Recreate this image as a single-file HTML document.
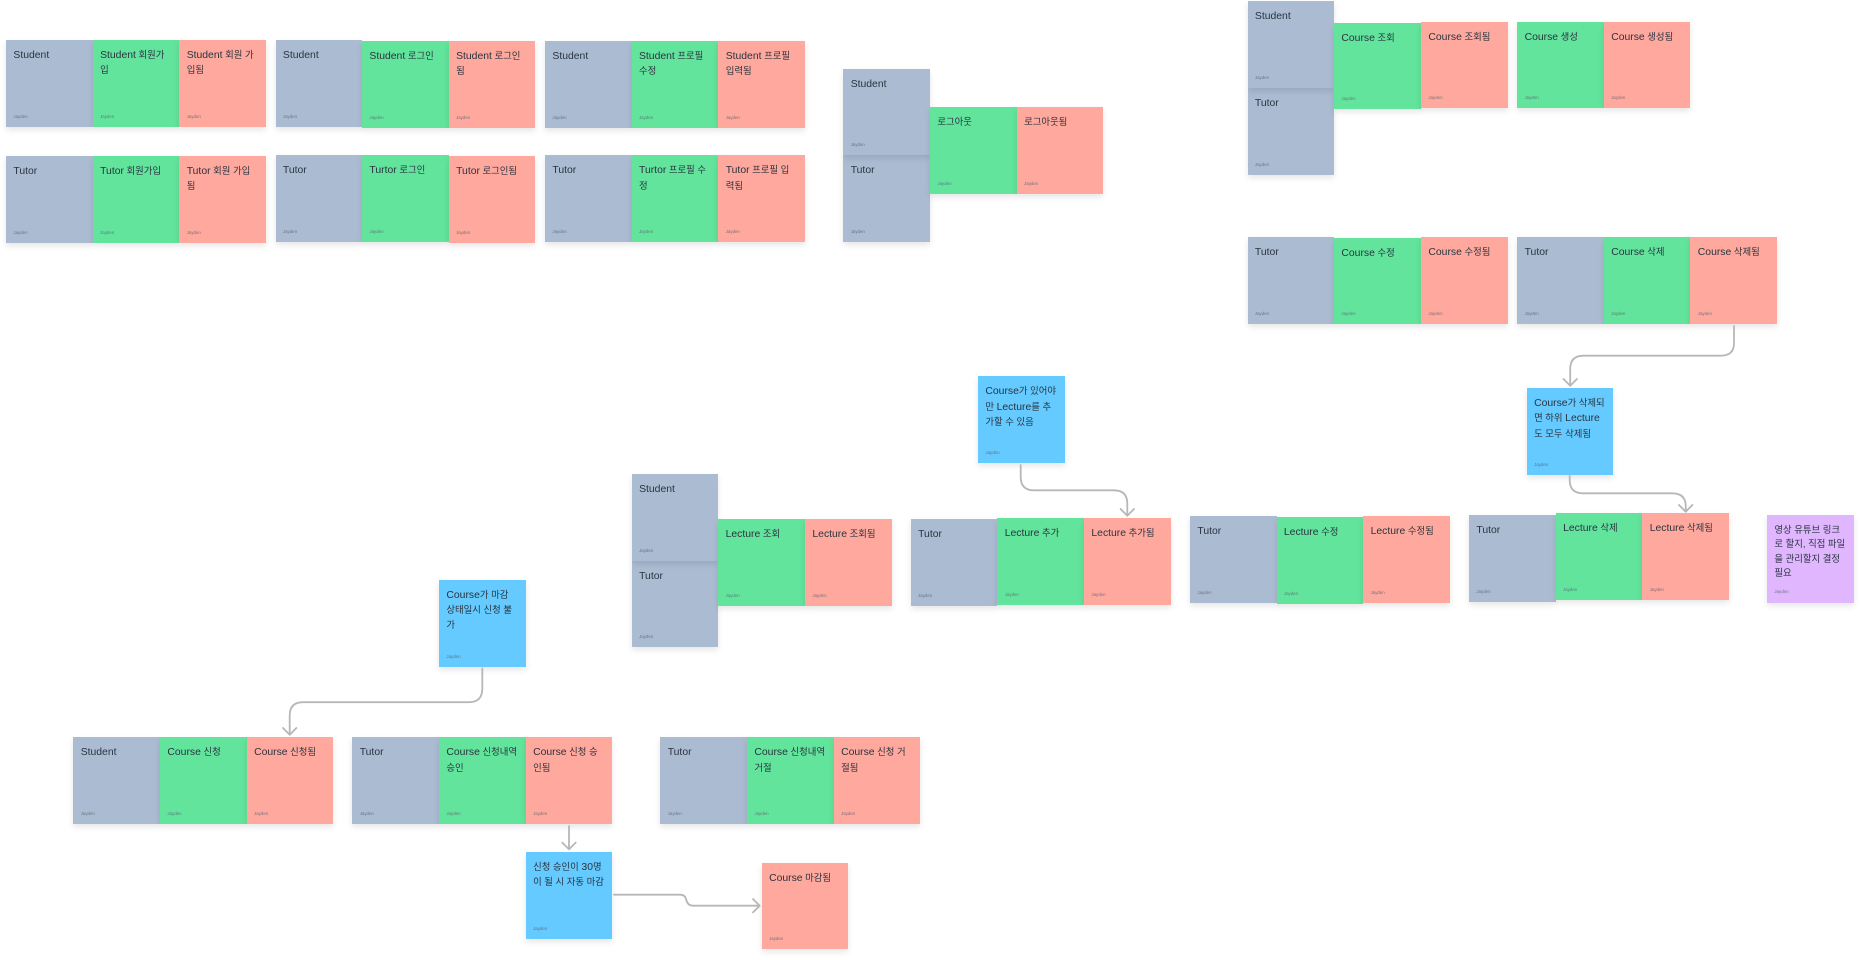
<!DOCTYPE html>
<html lang="ko"><head><meta charset="utf-8"><title>Event storming board</title>
<style>
html,body{margin:0;padding:0;background:#fff;width:1860px;height:960px;overflow:hidden}
body{position:relative;font-family:"Liberation Sans","Noto Sans CJK KR",sans-serif}
.n{position:absolute;width:86.7px;height:86.7px;box-sizing:border-box;padding:8.2px 0 0 7.4px;font-size:9.4px;line-height:14.3px;color:#2a3440;white-space:nowrap;box-shadow:0 3px 6px rgba(0,0,0,.1)}
.n u{text-decoration:none;font-size:10.4px}
.n small{position:absolute;left:7.4px;top:73.5px;font-size:4.4px;line-height:5px;color:#5a6470;opacity:.8}
.a{background:#abbbd1}.g{background:#62e49c}.r{background:#ffa89d}.b{background:#64caff}.p{background:#e0b6ff}
svg{position:absolute;left:0;top:0}
path{fill:none;stroke:#b7b7b7;stroke-width:1.8;stroke-linecap:round;stroke-linejoin:round}
</style></head><body>

<div class="n a" style="left:6px;top:40px"><u>Student</u><small>Jayden</small></div>
<div class="n g" style="left:92.7px;top:40px"><u>Student</u> 회원가<br>입<small>Jayden</small></div>
<div class="n r" style="left:179.3px;top:40px"><u>Student</u> 회원 가<br>입됨<small>Jayden</small></div>
<div class="n a" style="left:6px;top:156px"><u>Tutor</u><small>Jayden</small></div>
<div class="n g" style="left:92.7px;top:156px"><u>Tutor</u> 회원가입<small>Jayden</small></div>
<div class="n r" style="left:179.3px;top:156px"><u>Tutor</u> 회원 가입<br>됨<small>Jayden</small></div>

<div class="n a" style="left:275.5px;top:40px"><u>Student</u><small>Jayden</small></div>
<div class="n g" style="left:362px;top:41px"><u>Student</u> 로그인<small>Jayden</small></div>
<div class="n r" style="left:448.7px;top:41px"><u>Student</u> 로그인<br>됨<small>Jayden</small></div>
<div class="n a" style="left:275.5px;top:155.3px"><u>Tutor</u><small>Jayden</small></div>
<div class="n g" style="left:362px;top:155.3px"><u>Turtor</u> 로그인<small>Jayden</small></div>
<div class="n r" style="left:448.7px;top:156.3px"><u>Tutor</u> 로그인됨<small>Jayden</small></div>

<div class="n a" style="left:545px;top:41px"><u>Student</u><small>Jayden</small></div>
<div class="n g" style="left:631.6px;top:41px"><u>Student</u> 프로필<br>수정<small>Jayden</small></div>
<div class="n r" style="left:718.3px;top:41px"><u>Student</u> 프로필<br>입력됨<small>Jayden</small></div>
<div class="n a" style="left:545px;top:155.3px"><u>Tutor</u><small>Jayden</small></div>
<div class="n g" style="left:631.6px;top:155.3px"><u>Turtor</u> 프로필 수<br>정<small>Jayden</small></div>
<div class="n r" style="left:718.3px;top:155.3px"><u>Tutor</u> 프로필 입<br>력됨<small>Jayden</small></div>

<div class="n a" style="left:843.3px;top:155.3px"><u>Tutor</u><small>Jayden</small></div>
<div class="n a" style="left:843.3px;top:68.7px"><u>Student</u><small>Jayden</small></div>
<div class="n g" style="left:930px;top:107px">로그아웃<small>Jayden</small></div>
<div class="n r" style="left:1016.7px;top:107px">로그아웃됨<small>Jayden</small></div>

<div class="n a" style="left:1247.5px;top:88px"><u>Tutor</u><small>Jayden</small></div>
<div class="n a" style="left:1247.5px;top:1.3px"><u>Student</u><small>Jayden</small></div>
<div class="n g" style="left:1334px;top:22.7px"><u>Course</u> 조회<small>Jayden</small></div>
<div class="n r" style="left:1421px;top:21.7px"><u>Course</u> 조회됨<small>Jayden</small></div>
<div class="n g" style="left:1517.2px;top:21.7px"><u>Course</u> 생성<small>Jayden</small></div>
<div class="n r" style="left:1603.8px;top:21.7px"><u>Course</u> 생성됨<small>Jayden</small></div>

<div class="n a" style="left:1247.5px;top:237px"><u>Tutor</u><small>Jayden</small></div>
<div class="n g" style="left:1334px;top:237.7px"><u>Course</u> 수정<small>Jayden</small></div>
<div class="n r" style="left:1421px;top:237px"><u>Course</u> 수정됨<small>Jayden</small></div>
<div class="n a" style="left:1517.2px;top:237px"><u>Tutor</u><small>Jayden</small></div>
<div class="n g" style="left:1603.8px;top:237px"><u>Course</u> 삭제<small>Jayden</small></div>
<div class="n r" style="left:1690.4px;top:237px"><u>Course</u> 삭제됨<small>Jayden</small></div>

<div class="n b" style="left:1526.7px;top:388px"><u>Course</u>가 삭제되<br>면 하위 <u>Lecture</u><br>도 모두 삭제됨<small>Jayden</small></div>
<div class="n b" style="left:978px;top:376.3px"><u>Course</u>가 있어야<br>만 <u>Lecture</u>를 추<br>가할 수 있음<small>Jayden</small></div>

<div class="n a" style="left:631.7px;top:560.7px"><u>Tutor</u><small>Jayden</small></div>
<div class="n a" style="left:631.7px;top:474px"><u>Student</u><small>Jayden</small></div>
<div class="n g" style="left:718.2px;top:519px"><u>Lecture</u> 조회<small>Jayden</small></div>
<div class="n r" style="left:805px;top:519px"><u>Lecture</u> 조회됨<small>Jayden</small></div>

<div class="n a" style="left:910.7px;top:519px"><u>Tutor</u><small>Jayden</small></div>
<div class="n g" style="left:997.3px;top:518px"><u>Lecture</u> 추가<small>Jayden</small></div>
<div class="n r" style="left:1084px;top:518px"><u>Lecture</u> 추가됨<small>Jayden</small></div>

<div class="n a" style="left:1190px;top:516px"><u>Tutor</u><small>Jayden</small></div>
<div class="n g" style="left:1276.5px;top:517px"><u>Lecture</u> 수정<small>Jayden</small></div>
<div class="n r" style="left:1363.2px;top:516px"><u>Lecture</u> 수정됨<small>Jayden</small></div>

<div class="n a" style="left:1469px;top:515px"><u>Tutor</u><small>Jayden</small></div>
<div class="n g" style="left:1555.7px;top:513px"><u>Lecture</u> 삭제<small>Jayden</small></div>
<div class="n r" style="left:1642.3px;top:513px"><u>Lecture</u> 삭제됨<small>Jayden</small></div>
<div class="n p" style="left:1767px;top:515px;height:87.5px">영상 유튜브 링크<br>로 할지, 직접 파일<br>을 관리할지 결정<br>필요<small>Jayden</small></div>

<div class="n b" style="left:439px;top:580px"><u>Course</u>가 마감<br>상태일시 신청 불<br>가<small>Jayden</small></div>
<div class="n a" style="left:73.3px;top:737.3px"><u>Student</u><small>Jayden</small></div>
<div class="n g" style="left:160px;top:737.3px"><u>Course</u> 신청<small>Jayden</small></div>
<div class="n r" style="left:246.7px;top:737.3px"><u>Course</u> 신청됨<small>Jayden</small></div>
<div class="n a" style="left:352.3px;top:737.3px"><u>Tutor</u><small>Jayden</small></div>
<div class="n g" style="left:439px;top:737.3px"><u>Course</u> 신청내역<br>승인<small>Jayden</small></div>
<div class="n r" style="left:525.7px;top:737.3px"><u>Course</u> 신청 승<br>인됨<small>Jayden</small></div>
<div class="n a" style="left:660.3px;top:737.3px"><u>Tutor</u><small>Jayden</small></div>
<div class="n g" style="left:747px;top:737.3px"><u>Course</u> 신청내역<br>거절<small>Jayden</small></div>
<div class="n r" style="left:833.7px;top:737.3px"><u>Course</u> 신청 거<br>절됨<small>Jayden</small></div>
<div class="n b" style="left:525.7px;top:852px">신청 승인이 <u>30</u>명<br>이 될 시 자동 마감<small>Jayden</small></div>
<div class="n r" style="left:761.7px;top:862.7px"><u>Course</u> 마감됨<small>Jayden</small></div>

<svg width="1860" height="960" viewBox="0 0 1860 960">
<path d="M1734 326V343Q1734 355.7 1721 355.7H1583.5Q1570.2 355.7 1570.2 369V385"/>
<path d="M1563.5 379L1570.2 385.7L1576.9 379"/>
<path d="M1020.7 465V477Q1020.7 490.3 1034 490.3H1114Q1127.3 490.3 1127.3 503.6V515"/>
<path d="M1120.6 509L1127.3 515.7L1134 509"/>
<path d="M1569.7 476V480Q1569.7 493.3 1583 493.3H1672Q1685.7 493.3 1685.7 506V511"/>
<path d="M1679 505L1685.7 511.7L1692.4 505"/>
<path d="M482.3 668.5V688.5Q482.3 702.2 469 702.2H303Q289.7 702.2 289.7 715.5V734"/>
<path d="M283 728L289.7 734.7L296.4 728"/>
<path d="M569 826V849"/>
<path d="M562.3 842.6L569 849.3L575.7 842.6"/>
<path d="M614 894.7H680Q685 894.7 686 899Q687.5 905.7 693 905.7H759"/>
<path d="M753 899L759.7 905.7L753 912.4"/>
</svg>
</body></html>
